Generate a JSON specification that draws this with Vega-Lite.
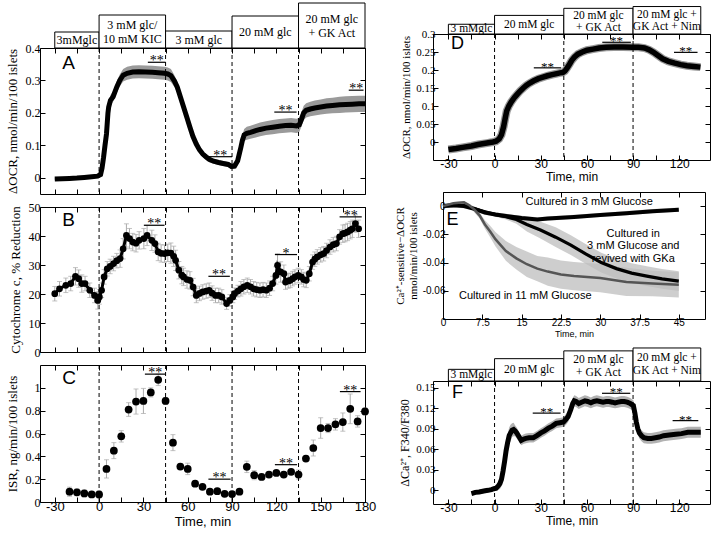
{
"$schema":"https://vega.github.io/schema/vega-lite/v6.json",
"background":"white",
"padding":{"left":5,"top":2,"right":0,"bottom":0},
"config":{
 "view":{"stroke":"black","strokeWidth":1},
 "axis":{"grid":false,"domain":false,"ticks":true,"tickColor":"black","tickSize":-5,"tickWidth":1,"labelPadding":3,"labelColor":"black","titleColor":"black","labelFont":"Liberation Serif","titleFont":"Liberation Serif","labelFontSize":12,"titleFontSize":13,"titleFontWeight":"normal","labelFlush":false,"labelOverlap":false,"labelBound":false,"titlePadding":4},
 "text":{"font":"Liberation Serif","color":"black"}
},
"datasets":{
 "boxA":[{"t0":-30,"t1":0,"h":16,"lab":["3mMglc"]},{"t0":0,"t1":45,"h":33,"lab":["3 mM glc/","10 mM KIC"]},{"t0":45,"t1":90,"h":17,"lab":["3 mM glc"]},{"t0":90,"t1":135,"h":32,"lab":["20 mM glc"]},{"t0":135,"t1":180,"h":45,"lab":["20 mM glc","+ GK Act"]}],
 "boxD":[{"t0":-30,"t1":0,"h":11,"lab":["3 mMglc"]},{"t0":0,"t1":45,"h":21,"lab":["20 mM glc"]},{"t0":45,"t1":90,"h":29,"lab":["20 mM glc","+ GK Act"]},{"t0":90,"t1":134,"h":31,"lab":["20 mM glc +","GK Act + Nim"]}],
 "boxF":[{"t0":-30,"t1":0,"h":12,"lab":["3 mMglc"]},{"t0":0,"t1":45,"h":23,"lab":["20 mM glc"]},{"t0":45,"t1":90,"h":31,"lab":["20 mM glc","+ GK Act"]},{"t0":90,"t1":134,"h":34,"lab":["20 mM glc +","GK Act + Nim"]}],
 "A":[{"t":-30,"v":-0.004,"e":0.004},{"t":-25,"v":-0.003,"e":0.004},{"t":-20,"v":-0.002,"e":0.004},{"t":-15,"v":-0.001,"e":0.004},{"t":-10,"v":0.001,"e":0.004},{"t":-5,"v":0.003,"e":0.004},{"t":-1,"v":0.005,"e":0.004},{"t":1,"v":0.01,"e":0.005},{"t":2,"v":0.03,"e":0.006},{"t":3,"v":0.062,"e":0.008},{"t":4,"v":0.1,"e":0.01},{"t":5,"v":0.135,"e":0.012},{"t":6,"v":0.2,"e":0.014},{"t":6.5,"v":0.218,"e":0.015},{"t":7.7,"v":0.239,"e":0.016},{"t":9.5,"v":0.25,"e":0.016},{"t":12,"v":0.28,"e":0.018},{"t":14,"v":0.3,"e":0.018},{"t":16.3,"v":0.316,"e":0.019},{"t":19,"v":0.322,"e":0.02},{"t":22.8,"v":0.326,"e":0.02},{"t":27,"v":0.327,"e":0.02},{"t":31.4,"v":0.326,"e":0.02},{"t":36,"v":0.325,"e":0.02},{"t":40,"v":0.324,"e":0.02},{"t":44.3,"v":0.322,"e":0.02},{"t":46.5,"v":0.32,"e":0.02},{"t":48.6,"v":0.315,"e":0.02},{"t":51,"v":0.298,"e":0.018},{"t":52.9,"v":0.28,"e":0.017},{"t":55,"v":0.25,"e":0.015},{"t":57.2,"v":0.218,"e":0.014},{"t":59.5,"v":0.185,"e":0.013},{"t":61.5,"v":0.156,"e":0.012},{"t":63.5,"v":0.128,"e":0.011},{"t":65.8,"v":0.104,"e":0.01},{"t":68,"v":0.086,"e":0.01},{"t":70.2,"v":0.073,"e":0.009},{"t":72.5,"v":0.064,"e":0.009},{"t":74.5,"v":0.057,"e":0.009},{"t":77.5,"v":0.051,"e":0.008},{"t":80.9,"v":0.047,"e":0.008},{"t":84,"v":0.044,"e":0.008},{"t":87.4,"v":0.041,"e":0.008},{"t":89.5,"v":0.035,"e":0.008},{"t":91.7,"v":0.036,"e":0.008},{"t":93.8,"v":0.052,"e":0.01},{"t":95,"v":0.075,"e":0.012},{"t":96,"v":0.094,"e":0.014},{"t":97,"v":0.115,"e":0.016},{"t":98.2,"v":0.132,"e":0.018},{"t":100,"v":0.137,"e":0.02},{"t":102.5,"v":0.14,"e":0.02},{"t":106,"v":0.145,"e":0.021},{"t":109,"v":0.149,"e":0.021},{"t":113,"v":0.153,"e":0.021},{"t":117.5,"v":0.156,"e":0.022},{"t":122,"v":0.159,"e":0.022},{"t":126.2,"v":0.161,"e":0.022},{"t":130,"v":0.162,"e":0.022},{"t":133.7,"v":0.16,"e":0.022},{"t":135.5,"v":0.163,"e":0.022},{"t":137,"v":0.18,"e":0.022},{"t":138.5,"v":0.2,"e":0.022},{"t":140.2,"v":0.208,"e":0.022},{"t":143,"v":0.212,"e":0.022},{"t":146,"v":0.215,"e":0.023},{"t":150,"v":0.218,"e":0.023},{"t":154,"v":0.221,"e":0.024},{"t":158,"v":0.223,"e":0.024},{"t":162.8,"v":0.225,"e":0.025},{"t":167,"v":0.226,"e":0.025},{"t":171.4,"v":0.227,"e":0.025},{"t":176,"v":0.228,"e":0.025},{"t":180,"v":0.228,"e":0.025}],
 "B":[{"t":-30,"v":20.1,"e":2.5},{"t":-26.8,"v":21.8,"e":2.5},{"t":-22.5,"v":23,"e":2.5},{"t":-19.2,"v":23.6,"e":2.5},{"t":-16,"v":26.1,"e":3},{"t":-13.8,"v":25.3,"e":3},{"t":-11.7,"v":23.6,"e":3},{"t":-9.5,"v":23.6,"e":2.5},{"t":-6.3,"v":21.3,"e":2.5},{"t":-3.1,"v":19.5,"e":2.5},{"t":-0.9,"v":17.8,"e":3},{"t":0.2,"v":19,"e":2.5},{"t":1.7,"v":21.3,"e":2.5},{"t":3.4,"v":25.9,"e":2.5},{"t":5.5,"v":28.7,"e":2.5},{"t":7.5,"v":29.5,"e":2.5},{"t":9.8,"v":30.5,"e":2.5},{"t":12,"v":31.5,"e":2.5},{"t":14.2,"v":32.2,"e":3},{"t":16.3,"v":35.6,"e":3.5},{"t":18.5,"v":40.2,"e":4},{"t":20.6,"v":39.1,"e":3.5},{"t":22.8,"v":37.9,"e":3},{"t":25,"v":37.5,"e":3},{"t":27.1,"v":38.5,"e":3},{"t":30.3,"v":39.1,"e":3.5},{"t":32.5,"v":40.2,"e":3.5},{"t":35.7,"v":38.5,"e":3.5},{"t":37.8,"v":37.4,"e":3},{"t":40,"v":34.5,"e":3},{"t":42,"v":34,"e":3},{"t":44.3,"v":33.9,"e":3},{"t":46.5,"v":34.2,"e":3},{"t":48.6,"v":34.1,"e":3.5},{"t":50.5,"v":33,"e":3.5},{"t":51.8,"v":31.6,"e":3.5},{"t":54,"v":28.2,"e":3},{"t":56,"v":26.5,"e":3},{"t":57.2,"v":25.9,"e":3},{"t":59.5,"v":25,"e":3},{"t":61.5,"v":24.7,"e":3},{"t":63.7,"v":22.4,"e":3},{"t":65.8,"v":19.5,"e":2.5},{"t":68,"v":20.2,"e":2.5},{"t":70.2,"v":20.7,"e":2.5},{"t":72.5,"v":21,"e":2.5},{"t":74.5,"v":21.3,"e":2.5},{"t":76.5,"v":20.3,"e":2.5},{"t":78.8,"v":19.5,"e":2.5},{"t":81,"v":19.5,"e":2.5},{"t":83.1,"v":19,"e":2.5},{"t":86.3,"v":16.7,"e":2},{"t":88.5,"v":17.8,"e":2},{"t":90.5,"v":19,"e":2},{"t":91.7,"v":20.1,"e":2},{"t":94,"v":21,"e":2},{"t":96,"v":21.8,"e":2.5},{"t":98,"v":22.5,"e":2.5},{"t":100.3,"v":23,"e":2.5},{"t":102.5,"v":22.5,"e":2.5},{"t":104.6,"v":21.8,"e":2.5},{"t":106.7,"v":21.5,"e":2.5},{"t":108.9,"v":21.3,"e":2.5},{"t":111,"v":21.5,"e":2.5},{"t":113.2,"v":21.3,"e":2.5},{"t":115.4,"v":22,"e":2.5},{"t":117.5,"v":23.6,"e":2.5},{"t":119.7,"v":26.4,"e":3},{"t":120.8,"v":29.9,"e":4},{"t":122.9,"v":27.6,"e":3.5},{"t":125.1,"v":27,"e":3},{"t":126.2,"v":24.1,"e":2.5},{"t":128,"v":24.5,"e":2.5},{"t":129.4,"v":24.7,"e":2.5},{"t":131,"v":25.3,"e":2.5},{"t":132.6,"v":25.9,"e":2.5},{"t":134.8,"v":26.4,"e":2.5},{"t":136.9,"v":25.9,"e":2.5},{"t":138.5,"v":25,"e":2.5},{"t":140.2,"v":24.7,"e":2.5},{"t":142.3,"v":27,"e":2.5},{"t":144.5,"v":31,"e":2.5},{"t":146,"v":32,"e":2.5},{"t":147.7,"v":32.8,"e":2.5},{"t":150,"v":33.5,"e":2.5},{"t":152,"v":33.9,"e":2.5},{"t":154,"v":35,"e":2.5},{"t":156.3,"v":36.2,"e":2.5},{"t":158.5,"v":37,"e":2.5},{"t":160.6,"v":37.4,"e":2.5},{"t":162.8,"v":39.7,"e":2.5},{"t":165,"v":40.8,"e":3},{"t":166.5,"v":41,"e":3},{"t":168.2,"v":41.4,"e":3},{"t":170,"v":42,"e":3},{"t":171.4,"v":42.5,"e":3},{"t":173.5,"v":44.3,"e":3},{"t":175.7,"v":42.5,"e":3}],
 "C":[{"t":-20,"v":0.09,"e":0.04},{"t":-15,"v":0.085,"e":0.03},{"t":-10,"v":0.075,"e":0.03},{"t":-5,"v":0.066,"e":0.02},{"t":0,"v":0.066,"e":0.03},{"t":5,"v":0.29,"e":0.08},{"t":10,"v":0.45,"e":0.07},{"t":15,"v":0.575,"e":0.05},{"t":20,"v":0.81,"e":0.06},{"t":25,"v":0.88,"e":0.11},{"t":30,"v":0.885,"e":0.11},{"t":35,"v":0.96,"e":0.04},{"t":40,"v":1.07,"e":0.05},{"t":45,"v":0.885,"e":0.03},{"t":50,"v":0.52,"e":0.07},{"t":55,"v":0.31,"e":0.02},{"t":60,"v":0.29,"e":0.05},{"t":65,"v":0.16,"e":0.01},{"t":70,"v":0.133,"e":0.01},{"t":75,"v":0.09,"e":0.01},{"t":80,"v":0.095,"e":0.01},{"t":85,"v":0.072,"e":0.01},{"t":90,"v":0.069,"e":0.01},{"t":95,"v":0.09,"e":0.01},{"t":100,"v":0.308,"e":0.05},{"t":105,"v":0.235,"e":0.04},{"t":110,"v":0.22,"e":0.02},{"t":115,"v":0.24,"e":0.02},{"t":120,"v":0.255,"e":0.02},{"t":125,"v":0.24,"e":0.02},{"t":130,"v":0.264,"e":0.02},{"t":135,"v":0.24,"e":0.04},{"t":140,"v":0.38,"e":0.02},{"t":145,"v":0.473,"e":0.07},{"t":150,"v":0.648,"e":0.09},{"t":155,"v":0.648,"e":0.04},{"t":160,"v":0.68,"e":0.05},{"t":165,"v":0.7,"e":0.08},{"t":170,"v":0.816,"e":0.13},{"t":175,"v":0.706,"e":0.05},{"t":180,"v":0.793,"e":0.03}],
 "D":[{"t":-30,"v":-0.021},{"t":-25,"v":-0.018},{"t":-20.7,"v":-0.015},{"t":-15,"v":-0.011},{"t":-10.8,"v":-0.007},{"t":-5,"v":-0.003},{"t":-1,"v":0},{"t":1,"v":0.002},{"t":3,"v":0.0086},{"t":4.5,"v":0.02},{"t":5.9,"v":0.043},{"t":6.9,"v":0.065},{"t":7.9,"v":0.086},{"t":9.3,"v":0.1},{"t":10.8,"v":0.111},{"t":12.8,"v":0.123},{"t":14.8,"v":0.133},{"t":16.7,"v":0.142},{"t":18.7,"v":0.15},{"t":20.6,"v":0.157},{"t":22.6,"v":0.163},{"t":25.5,"v":0.17},{"t":28.5,"v":0.176},{"t":31.5,"v":0.18},{"t":34.4,"v":0.184},{"t":37.4,"v":0.187},{"t":40.4,"v":0.19},{"t":42.5,"v":0.192},{"t":44.3,"v":0.193},{"t":45.7,"v":0.197},{"t":47.2,"v":0.206},{"t":48.7,"v":0.216},{"t":50.2,"v":0.227},{"t":52,"v":0.236},{"t":54.1,"v":0.244},{"t":57,"v":0.25},{"t":60,"v":0.255},{"t":64,"v":0.258},{"t":67.9,"v":0.261},{"t":72.5,"v":0.263},{"t":77.7,"v":0.264},{"t":83.5,"v":0.264},{"t":89.6,"v":0.263},{"t":93.5,"v":0.263},{"t":97.4,"v":0.261},{"t":100.5,"v":0.256},{"t":103.3,"v":0.249},{"t":106.2,"v":0.24},{"t":109.2,"v":0.231},{"t":113,"v":0.224},{"t":117.1,"v":0.219},{"t":121,"v":0.215},{"t":125,"v":0.212},{"t":129.5,"v":0.21},{"t":133.8,"v":0.208}],
 "E":[{"s":"3mM","t":0,"v":0,"e":0.0015},{"s":"3mM","t":2,"v":0.0006,"e":0.0015},{"s":"3mM","t":4,"v":0,"e":0.0015},{"s":"3mM","t":6,"v":-0.002,"e":0.0015},{"s":"3mM","t":8,"v":-0.0046,"e":0.0015},{"s":"3mM","t":10,"v":-0.006,"e":0.0015},{"s":"3mM","t":12,"v":-0.007,"e":0.0015},{"s":"3mM","t":15,"v":-0.0084,"e":0.0015},{"s":"3mM","t":18,"v":-0.0094,"e":0.0015},{"s":"3mM","t":20,"v":-0.0088,"e":0.0015},{"s":"3mM","t":25,"v":-0.0077,"e":0.0015},{"s":"3mM","t":30,"v":-0.0063,"e":0.0015},{"s":"3mM","t":35,"v":-0.005,"e":0.0015},{"s":"3mM","t":40,"v":-0.0036,"e":0.0015},{"s":"3mM","t":45,"v":-0.0025,"e":0.0015},
  {"s":"GKa","t":0,"v":0,"e":0.001},{"s":"GKa","t":2,"v":0.0005,"e":0.001},{"s":"GKa","t":4,"v":0.0005,"e":0.001},{"s":"GKa","t":6,"v":-0.002,"e":0.001},{"s":"GKa","t":8,"v":-0.004,"e":0.001},{"s":"GKa","t":10,"v":-0.006,"e":0.0015},{"s":"GKa","t":12,"v":-0.0075,"e":0.002},{"s":"GKa","t":14,"v":-0.0095,"e":0.003},{"s":"GKa","t":16,"v":-0.013,"e":0.005},{"s":"GKa","t":18.6,"v":-0.017,"e":0.006},{"s":"GKa","t":21.5,"v":-0.022,"e":0.007},{"s":"GKa","t":24.4,"v":-0.0276,"e":0.007},{"s":"GKa","t":27.3,"v":-0.034,"e":0.007},{"s":"GKa","t":30.2,"v":-0.04,"e":0.007},{"s":"GKa","t":33.1,"v":-0.0443,"e":0.007},{"s":"GKa","t":36,"v":-0.0475,"e":0.007},{"s":"GKa","t":38.9,"v":-0.0496,"e":0.007},{"s":"GKa","t":41.8,"v":-0.0516,"e":0.007},{"s":"GKa","t":45,"v":-0.0531,"e":0.007},
  {"s":"11mM","t":0,"v":0,"e":0.001},{"s":"11mM","t":2,"v":0.002,"e":0.001},{"s":"11mM","t":4,"v":0.0027,"e":0.001},{"s":"11mM","t":5,"v":0.0006,"e":0.001},{"s":"11mM","t":6,"v":-0.0025,"e":0.002},{"s":"11mM","t":7,"v":-0.0067,"e":0.002},{"s":"11mM","t":8,"v":-0.013,"e":0.003},{"s":"11mM","t":9,"v":-0.018,"e":0.004},{"s":"11mM","t":10,"v":-0.0234,"e":0.005},{"s":"11mM","t":11,"v":-0.0276,"e":0.006},{"s":"11mM","t":12,"v":-0.0318,"e":0.007},{"s":"11mM","t":14,"v":-0.037,"e":0.008},{"s":"11mM","t":16,"v":-0.0412,"e":0.009},{"s":"11mM","t":18,"v":-0.0443,"e":0.009},{"s":"11mM","t":20,"v":-0.0464,"e":0.01},{"s":"11mM","t":22.5,"v":-0.0485,"e":0.01},{"s":"11mM","t":25,"v":-0.0496,"e":0.01},{"s":"11mM","t":30,"v":-0.051,"e":0.01},{"s":"11mM","t":35,"v":-0.0537,"e":0.01},{"s":"11mM","t":40,"v":-0.0548,"e":0.009},{"s":"11mM","t":45,"v":-0.0558,"e":0.009}],
 "F":[{"t":-15,"v":-0.0047,"e":0.003},{"t":-12.5,"v":-0.003,"e":0.003},{"t":-10,"v":-0.0023,"e":0.003},{"t":-7,"v":-0.001,"e":0.003},{"t":-4.3,"v":0,"e":0.003},{"t":-2,"v":0.001,"e":0.003},{"t":-0.4,"v":0.0023,"e":0.003},{"t":1,"v":0.003,"e":0.004},{"t":2.6,"v":0.007,"e":0.006},{"t":3.5,"v":0.01,"e":0.008},{"t":4.5,"v":0.016,"e":0.01},{"t":5.5,"v":0.028,"e":0.012},{"t":6.5,"v":0.042,"e":0.012},{"t":7.5,"v":0.058,"e":0.012},{"t":8.5,"v":0.07,"e":0.012},{"t":9.5,"v":0.08,"e":0.012},{"t":10.4,"v":0.084,"e":0.012},{"t":11.4,"v":0.088,"e":0.01},{"t":12.4,"v":0.089,"e":0.01},{"t":13.4,"v":0.087,"e":0.008},{"t":14.4,"v":0.084,"e":0.008},{"t":16,"v":0.078,"e":0.007},{"t":17.3,"v":0.073,"e":0.007},{"t":19,"v":0.075,"e":0.007},{"t":20.3,"v":0.076,"e":0.007},{"t":22.5,"v":0.077,"e":0.007},{"t":25.2,"v":0.077,"e":0.007},{"t":27.5,"v":0.08,"e":0.007},{"t":30.1,"v":0.084,"e":0.007},{"t":32.5,"v":0.087,"e":0.007},{"t":35,"v":0.091,"e":0.007},{"t":37.5,"v":0.094,"e":0.007},{"t":40,"v":0.098,"e":0.007},{"t":42.5,"v":0.099,"e":0.007},{"t":44.9,"v":0.1,"e":0.007},{"t":46.5,"v":0.104,"e":0.008},{"t":47.8,"v":0.108,"e":0.008},{"t":49.5,"v":0.118,"e":0.008},{"t":50.8,"v":0.127,"e":0.008},{"t":51.8,"v":0.131,"e":0.008},{"t":53,"v":0.13,"e":0.008},{"t":54.7,"v":0.127,"e":0.008},{"t":56.5,"v":0.129,"e":0.008},{"t":58.7,"v":0.131,"e":0.008},{"t":60.5,"v":0.13,"e":0.008},{"t":62.6,"v":0.128,"e":0.008},{"t":64.5,"v":0.13,"e":0.008},{"t":66.5,"v":0.131,"e":0.008},{"t":68.5,"v":0.13,"e":0.008},{"t":70.5,"v":0.129,"e":0.008},{"t":72.5,"v":0.13,"e":0.008},{"t":74.4,"v":0.13,"e":0.008},{"t":76.5,"v":0.129,"e":0.008},{"t":78.3,"v":0.128,"e":0.008},{"t":80.3,"v":0.129,"e":0.008},{"t":82.3,"v":0.13,"e":0.008},{"t":84.3,"v":0.13,"e":0.008},{"t":86.2,"v":0.129,"e":0.008},{"t":88.2,"v":0.127,"e":0.008},{"t":90.2,"v":0.124,"e":0.008},{"t":91.2,"v":0.113,"e":0.008},{"t":92.1,"v":0.1,"e":0.008},{"t":93.1,"v":0.09,"e":0.008},{"t":94.1,"v":0.084,"e":0.008},{"t":95.5,"v":0.08,"e":0.008},{"t":97,"v":0.077,"e":0.008},{"t":99.5,"v":0.076,"e":0.008},{"t":101.9,"v":0.076,"e":0.008},{"t":104.5,"v":0.077,"e":0.008},{"t":107,"v":0.078,"e":0.008},{"t":109.8,"v":0.08,"e":0.008},{"t":113.5,"v":0.081,"e":0.008},{"t":117.7,"v":0.082,"e":0.008},{"t":121.5,"v":0.083,"e":0.008},{"t":125.6,"v":0.085,"e":0.008},{"t":130,"v":0.085,"e":0.008},{"t":134,"v":0.085,"e":0.008}],
 "sigA":[{"t0":33,"t1":45,"y":0.356,"lab":"**"},{"t0":74,"t1":90,"y":0.065,"lab":"**"},{"t0":118.6,"t1":133.7,"y":0.2025,"lab":"**"},{"t0":169,"t1":179,"y":0.27,"lab":"**"}],
 "sigB":[{"t0":30.3,"t1":44.3,"y":43.7,"lab":"**"},{"t0":74,"t1":88.5,"y":26.1,"lab":"**"},{"t0":119,"t1":134,"y":33.6,"lab":"*"},{"t0":162.8,"t1":177.8,"y":46.6,"lab":"**"}],
 "sigC":[{"t0":31,"t1":45,"y":1.12,"lab":"**"},{"t0":74,"t1":89,"y":0.2,"lab":"**"},{"t0":119,"t1":134,"y":0.327,"lab":"**"},{"t0":163,"t1":177,"y":0.967,"lab":"**"}],
 "sigD":[{"t0":25.5,"t1":43.3,"y":0.206,"lab":"**"},{"t0":70,"t1":88.6,"y":0.277,"lab":"**"},{"t0":116.6,"t1":131.9,"y":0.249,"lab":"**"}],
 "sigF":[{"t0":24.8,"t1":42.9,"y":0.113,"lab":"**"},{"t0":69.8,"t1":88.2,"y":0.142,"lab":"**"},{"t0":115.7,"t1":132.4,"y":0.102,"lab":"**"}],
 "cutsL":[{"t":0},{"t":45},{"t":90},{"t":135}],
 "cutsR":[{"t":0},{"t":45},{"t":90}]
},
"spacing":16,
"hconcat":[
 {"spacing":5,"vconcat":[
  {"bounds":"flush","spacing":0,"vconcat":[
   {"width":325,"height":45,"view":{"stroke":null},"data":{"name":"boxA"},
    "transform":[{"calculate":"(datum.t0+datum.t1)/2","as":"m"},{"calculate":"datum.h/2+(length(datum.lab)-1)*7","as":"hm"}],
    "layer":[
     {"mark":{"type":"rect","fill":"white","stroke":"black","strokeWidth":1},"encoding":{"x":{"field":"t0","type":"quantitative","scale":{"domain":[-30,180]},"axis":null},"x2":{"field":"t1"},"y":{"field":"h","type":"quantitative","scale":{"domain":[0,45]},"axis":null},"y2":{"datum":0}}},
     {"mark":{"type":"text","color":"black","fontSize":12,"lineHeight":14,"baseline":"middle"},"encoding":{"x":{"field":"m","type":"quantitative","axis":null},"y":{"field":"hm","type":"quantitative","axis":null},"text":{"field":"lab"}}}
    ]},
   {"width":325,"height":146,"resolve":{"axis":{"x":"independent","y":"independent"}},
    "layer":[
     {"data":{"name":"A"},"mark":{"type":"errorband","color":"#9a9a9a","opacity":1},"encoding":{"x":{"field":"t","type":"quantitative","scale":{"domain":[-30,180]},"axis":{"values":[-30,-15,0,15,30,45,60,75,90,105,120,135,150,165,180],"labels":false,"labelPadding":0,"title":null}},"y":{"field":"v","type":"quantitative","scale":{"domain":[-0.05,0.4]},"axis":{"values":[0,0.1,0.2,0.3,0.4],"labelExpr":"''+datum.value","labelPadding":5,"titlePadding":6,"title":"ΔOCR, nmol/min/100 islets"}},"yError":{"field":"e"}}},
     {"data":{"name":"A"},"mark":{"type":"line","color":"black","strokeWidth":5},"encoding":{"x":{"field":"t","type":"quantitative","axis":null},"y":{"field":"v","type":"quantitative","axis":null}}},
     {"data":{"name":"cutsL"},"mark":{"type":"rule","color":"black","strokeDash":[4,3],"strokeWidth":1},"encoding":{"x":{"field":"t","type":"quantitative","axis":null}}},
     {"data":{"name":"sigA"},"mark":{"type":"rule","color":"black","strokeWidth":1.2},"encoding":{"x":{"field":"t0","type":"quantitative","axis":{"orient":"top","values":[-30,-15,0,15,30,45,60,75,90,105,120,135,150,165,180],"labels":false,"labelPadding":0,"title":null}},"x2":{"field":"t1"},"y":{"field":"y","type":"quantitative","axis":{"orient":"right","values":[0,0.1,0.2,0.3,0.4],"labels":false,"labelPadding":0,"title":null}}}},
     {"data":{"name":"sigA"},"transform":[{"calculate":"(datum.t0+datum.t1)/2","as":"m"}],"mark":{"type":"text","color":"black","fontSize":14,"dy":3,"baseline":"alphabetic"},"encoding":{"x":{"field":"m","type":"quantitative","axis":null},"y":{"field":"y","type":"quantitative","axis":null},"text":{"field":"lab"}}},
     {"data":{"values":[{}]},"mark":{"type":"text","color":"black","font":"Liberation Sans","fontSize":19,"align":"left","baseline":"middle","text":"A"},"encoding":{"x":{"datum":-25,"type":"quantitative","axis":null},"y":{"datum":0.355,"type":"quantitative","axis":null}}}
    ]}
  ]},
  {"width":325,"height":145,"resolve":{"axis":{"x":"independent","y":"independent"}},
   "layer":[
    {"data":{"name":"B"},"mark":{"type":"errorbar","color":"#aaaaaa","ticks":true},"encoding":{"x":{"field":"t","type":"quantitative","scale":{"domain":[-30,180]},"axis":{"values":[-30,-15,0,15,30,45,60,75,90,105,120,135,150,165,180],"labels":false,"labelPadding":0,"title":null}},"y":{"field":"v","type":"quantitative","scale":{"domain":[0,50]},"axis":{"values":[0,10,20,30,40,50],"labelExpr":"''+datum.value","labelPadding":5,"titlePadding":6,"title":"Cytochrome c, % Reduction"}},"yError":{"field":"e"}}},
    {"data":{"name":"B"},"mark":{"type":"line","color":"black","strokeWidth":3},"encoding":{"x":{"field":"t","type":"quantitative","axis":null},"y":{"field":"v","type":"quantitative","axis":null}}},
    {"data":{"name":"B"},"mark":{"type":"circle","color":"black","size":45,"opacity":1},"encoding":{"x":{"field":"t","type":"quantitative","axis":null},"y":{"field":"v","type":"quantitative","axis":null}}},
    {"data":{"name":"cutsL"},"mark":{"type":"rule","color":"black","strokeDash":[4,3],"strokeWidth":1},"encoding":{"x":{"field":"t","type":"quantitative","axis":null}}},
    {"data":{"name":"sigB"},"mark":{"type":"rule","color":"black","strokeWidth":1.2},"encoding":{"x":{"field":"t0","type":"quantitative","axis":{"orient":"top","values":[-30,-15,0,15,30,45,60,75,90,105,120,135,150,165,180],"labels":false,"labelPadding":0,"title":null}},"x2":{"field":"t1"},"y":{"field":"y","type":"quantitative","axis":{"orient":"right","values":[0,10,20,30,40,50],"labels":false,"labelPadding":0,"title":null}}}},
    {"data":{"name":"sigB"},"transform":[{"calculate":"(datum.t0+datum.t1)/2","as":"m"}],"mark":{"type":"text","color":"black","fontSize":14,"dy":3,"baseline":"alphabetic"},"encoding":{"x":{"field":"m","type":"quantitative","axis":null},"y":{"field":"y","type":"quantitative","axis":null},"text":{"field":"lab"}}},
    {"data":{"values":[{}]},"mark":{"type":"text","color":"black","font":"Liberation Sans","fontSize":19,"align":"left","baseline":"middle","text":"B"},"encoding":{"x":{"datum":-25,"type":"quantitative","axis":null},"y":{"datum":45.4,"type":"quantitative","axis":null}}}
   ]},
  {"width":325,"height":137,"resolve":{"axis":{"x":"independent","y":"independent"}},
   "layer":[
    {"data":{"name":"C"},"mark":{"type":"errorbar","color":"#aaaaaa","ticks":true},"encoding":{"x":{"field":"t","type":"quantitative","scale":{"domain":[-30,180]},"axis":{"values":[-30,-15,0,15,30,45,60,75,90,105,120,135,150,165,180],"labelExpr":"datum.value % 30 === 0 ? ''+datum.value : ''","title":"Time, min","labelFont":"Liberation Sans","labelFontSize":13,"titleFont":"Liberation Sans","titleFontSize":13,"titlePadding":2}},"y":{"field":"v","type":"quantitative","scale":{"domain":[0,1.2]},"axis":{"values":[0,0.2,0.4,0.6,0.8,1],"labelExpr":"''+datum.value","labelPadding":5,"titlePadding":6,"title":"ISR, ng/min/100 islets"}},"yError":{"field":"e"}}},
    {"data":{"name":"C"},"mark":{"type":"circle","color":"black","size":60,"opacity":1},"encoding":{"x":{"field":"t","type":"quantitative","axis":null},"y":{"field":"v","type":"quantitative","axis":null}}},
    {"data":{"name":"cutsL"},"mark":{"type":"rule","color":"black","strokeDash":[4,3],"strokeWidth":1},"encoding":{"x":{"field":"t","type":"quantitative","axis":null}}},
    {"data":{"name":"sigC"},"mark":{"type":"rule","color":"black","strokeWidth":1.2},"encoding":{"x":{"field":"t0","type":"quantitative","axis":{"orient":"top","values":[-30,-15,0,15,30,45,60,75,90,105,120,135,150,165,180],"labels":false,"labelPadding":0,"title":null}},"x2":{"field":"t1"},"y":{"field":"y","type":"quantitative","axis":{"orient":"right","values":[0,0.2,0.4,0.6,0.8,1],"labels":false,"labelPadding":0,"title":null}}}},
    {"data":{"name":"sigC"},"transform":[{"calculate":"(datum.t0+datum.t1)/2","as":"m"}],"mark":{"type":"text","color":"black","fontSize":14,"dy":3,"baseline":"alphabetic"},"encoding":{"x":{"field":"m","type":"quantitative","axis":null},"y":{"field":"y","type":"quantitative","axis":null},"text":{"field":"lab"}}},
    {"data":{"values":[{}]},"mark":{"type":"text","color":"black","font":"Liberation Sans","fontSize":19,"align":"left","baseline":"middle","text":"C"},"encoding":{"x":{"datum":-25,"type":"quantitative","axis":null},"y":{"datum":1.09,"type":"quantitative","axis":null}}}
   ]}
 ]},
 {"spacing":8,"vconcat":[
  {"bounds":"flush","spacing":0,"vconcat":[
   {"width":277,"height":31,"view":{"stroke":null},"data":{"name":"boxD"},
    "transform":[{"calculate":"(datum.t0+datum.t1)/2","as":"m"},{"calculate":"datum.h/2+(length(datum.lab)-1)*6","as":"hm"}],
    "layer":[
     {"mark":{"type":"rect","fill":"white","stroke":"black","strokeWidth":1},"encoding":{"x":{"field":"t0","type":"quantitative","scale":{"domain":[-31,134]},"axis":null},"x2":{"field":"t1"},"y":{"field":"h","type":"quantitative","scale":{"domain":[0,31]},"axis":null},"y2":{"datum":0}}},
     {"mark":{"type":"text","color":"black","fontSize":11.5,"lineHeight":12,"baseline":"middle"},"encoding":{"x":{"field":"m","type":"quantitative","axis":null},"y":{"field":"hm","type":"quantitative","axis":null},"text":{"field":"lab"}}}
    ]},
   {"width":277,"height":126,"resolve":{"axis":{"x":"independent","y":"independent"}},
    "layer":[
     {"data":{"name":"D"},"mark":{"type":"line","color":"#999999","strokeWidth":8},"encoding":{"x":{"field":"t","type":"quantitative","scale":{"domain":[-31,134]},"axis":{"values":[-30,-15,0,15,30,45,60,75,90,105,120],"labelExpr":"datum.value % 30 === 0 ? ''+datum.value : ''","title":"Time, min","labelFont":"Liberation Sans","labelFontSize":12,"titleFont":"Liberation Sans","titleFontSize":12,"titlePadding":2}},"y":{"field":"v","type":"quantitative","scale":{"domain":[-0.025,0.3]},"axis":{"values":[0,0.05,0.1,0.15,0.2,0.25,0.3],"labelExpr":"''+datum.value","labelFontSize":11,"titleFontSize":11,"title":"ΔOCR, nmol/min/100 islets"}}}},
     {"data":{"name":"D"},"mark":{"type":"line","color":"black","strokeWidth":5.5},"encoding":{"x":{"field":"t","type":"quantitative","axis":null},"y":{"field":"v","type":"quantitative","axis":null}}},
     {"data":{"name":"cutsR"},"mark":{"type":"rule","color":"black","strokeDash":[4,3],"strokeWidth":1},"encoding":{"x":{"field":"t","type":"quantitative","axis":null}}},
     {"data":{"name":"sigD"},"mark":{"type":"rule","color":"black","strokeWidth":1.2},"encoding":{"x":{"field":"t0","type":"quantitative","axis":{"orient":"top","values":[-30,-15,0,15,30,45,60,75,90,105,120],"labels":false,"labelPadding":0,"title":null}},"x2":{"field":"t1"},"y":{"field":"y","type":"quantitative","axis":{"orient":"right","values":[0,0.05,0.1,0.15,0.2,0.25,0.3],"labels":false,"labelPadding":0,"title":null}}}},
     {"data":{"name":"sigD"},"transform":[{"calculate":"(datum.t0+datum.t1)/2","as":"m"}],"mark":{"type":"text","color":"black","fontSize":13,"dy":3,"baseline":"alphabetic"},"encoding":{"x":{"field":"m","type":"quantitative","axis":null},"y":{"field":"y","type":"quantitative","axis":null},"text":{"field":"lab"}}},
     {"data":{"values":[{}]},"mark":{"type":"text","color":"black","font":"Liberation Sans","fontSize":18,"align":"center","baseline":"middle","text":"D"},"encoding":{"x":{"datum":-24,"type":"quantitative","axis":null},"y":{"datum":0.273,"type":"quantitative","axis":null}}}
    ]}
  ]},
  {"bounds":"flush","spacing":9,"hconcat":[
   {"width":1,"height":127,"view":{"stroke":null},"data":{"values":[{}]},"mark":{"type":"point","opacity":0}},
   {"width":262,"height":127,"resolve":{"axis":{"x":"independent","y":"independent"}},
    "layer":[
     {"data":{"name":"E"},"mark":{"type":"errorband","color":"#bdbdbd","opacity":0.75},"encoding":{"x":{"field":"t","type":"quantitative","scale":{"domain":[0,45.5]},"axis":{"values":[0,7.5,15,22.5,30,37.5,45],"labelExpr":"''+datum.value","title":"Time, min","labelFont":"Liberation Sans","labelFontSize":10,"titleFont":"Liberation Sans","titleFontSize":9,"titlePadding":2}},"y":{"field":"v","type":"quantitative","scale":{"domain":[-0.07,0.01]},"axis":{"values":[0,-0.02,-0.04,-0.06],"labelExpr":"''+datum.value","labelFont":"Liberation Sans","labelFontSize":10,"titleFontSize":11,"title":["Ca²⁺-sensitive−ΔOCR","nmol/min/100 islets"]}},"yError":{"field":"e"},"detail":{"field":"s"}}},
     {"data":{"name":"E"},"mark":{"type":"line"},"encoding":{"x":{"field":"t","type":"quantitative","axis":null},"y":{"field":"v","type":"quantitative","axis":null},"color":{"field":"s","type":"nominal","scale":{"domain":["3mM","GKa","11mM"],"range":["black","black","#555555"]},"legend":null},"strokeWidth":{"field":"s","type":"nominal","scale":{"domain":["3mM","GKa","11mM"],"range":[4,2.5,3.5]},"legend":null}}},
     {"data":{"values":[{}]},"mark":{"type":"text","color":"black","font":"Liberation Sans","fontSize":11,"align":"center","baseline":"middle","text":"Cultured in 3 mM Glucose"},"encoding":{"x":{"datum":27.9,"type":"quantitative","axis":null},"y":{"datum":0.003,"type":"quantitative","axis":null}}},
     {"data":{"values":[{}]},"mark":{"type":"text","color":"black","font":"Liberation Sans","fontSize":11,"lineHeight":12.5,"align":"center","baseline":"middle","text":["Cultured in","3 mM Glucose and","revived with GKa"]},"encoding":{"x":{"datum":36.3,"type":"quantitative","axis":null},"y":{"datum":-0.0195,"type":"quantitative","axis":null}}},
     {"data":{"values":[{}]},"mark":{"type":"text","color":"black","font":"Liberation Sans","fontSize":11,"align":"center","baseline":"middle","text":"Cultured in 11 mM Glucose"},"encoding":{"x":{"datum":15.7,"type":"quantitative","axis":null},"y":{"datum":-0.064,"type":"quantitative","axis":null}}},
     {"data":{"values":[{}]},"mark":{"type":"text","color":"black","font":"Liberation Sans","fontSize":18,"align":"center","baseline":"middle","text":"E"},"encoding":{"x":{"datum":1.8,"type":"quantitative","axis":{"orient":"top","values":[0,7.5,15,22.5,30,37.5,45],"labels":false,"labelPadding":0,"title":null}},"y":{"datum":-0.0098,"type":"quantitative","axis":{"orient":"right","values":[0,-0.02,-0.04,-0.06],"labels":false,"labelPadding":0,"title":null}}}}
    ]}
  ]},
  {"bounds":"flush","spacing":0,"vconcat":[
   {"width":277,"height":34,"view":{"stroke":null},"data":{"name":"boxF"},
    "transform":[{"calculate":"(datum.t0+datum.t1)/2","as":"m"},{"calculate":"datum.h/2+(length(datum.lab)-1)*6.5","as":"hm"}],
    "layer":[
     {"mark":{"type":"rect","fill":"white","stroke":"black","strokeWidth":1},"encoding":{"x":{"field":"t0","type":"quantitative","scale":{"domain":[-31,134]},"axis":null},"x2":{"field":"t1"},"y":{"field":"h","type":"quantitative","scale":{"domain":[0,34]},"axis":null},"y2":{"datum":0}}},
     {"mark":{"type":"text","color":"black","fontSize":11.5,"lineHeight":13,"baseline":"middle"},"encoding":{"x":{"field":"m","type":"quantitative","axis":null},"y":{"field":"hm","type":"quantitative","axis":null},"text":{"field":"lab"}}}
    ]},
   {"width":277,"height":123,"resolve":{"axis":{"x":"independent","y":"independent"}},
    "layer":[
     {"data":{"name":"F"},"mark":{"type":"errorband","color":"#aaaaaa","opacity":0.9},"encoding":{"x":{"field":"t","type":"quantitative","scale":{"domain":[-31,134]},"axis":{"values":[-30,-15,0,15,30,45,60,75,90,105,120],"labelExpr":"datum.value % 30 === 0 ? ''+datum.value : ''","title":"Time, min","labelFont":"Liberation Sans","labelFontSize":12,"titleFont":"Liberation Sans","titleFontSize":12,"titlePadding":2}},"y":{"field":"v","type":"quantitative","scale":{"domain":[-0.015,0.16]},"axis":{"values":[0,0.03,0.06,0.09,0.12,0.15],"labelExpr":"''+datum.value","labelFontSize":11,"titleFontSize":12,"title":"ΔCa²⁺, F340/F380"}},"yError":{"field":"e"}}},
     {"data":{"name":"F"},"mark":{"type":"line","color":"black","strokeWidth":5},"encoding":{"x":{"field":"t","type":"quantitative","axis":null},"y":{"field":"v","type":"quantitative","axis":null}}},
     {"data":{"name":"cutsR"},"mark":{"type":"rule","color":"black","strokeDash":[4,3],"strokeWidth":1},"encoding":{"x":{"field":"t","type":"quantitative","axis":null}}},
     {"data":{"name":"sigF"},"mark":{"type":"rule","color":"black","strokeWidth":1.2},"encoding":{"x":{"field":"t0","type":"quantitative","axis":{"orient":"top","values":[-30,-15,0,15,30,45,60,75,90,105,120],"labels":false,"labelPadding":0,"title":null}},"x2":{"field":"t1"},"y":{"field":"y","type":"quantitative","axis":{"orient":"right","values":[0,0.03,0.06,0.09,0.12,0.15],"labels":false,"labelPadding":0,"title":null}}}},
     {"data":{"name":"sigF"},"transform":[{"calculate":"(datum.t0+datum.t1)/2","as":"m"}],"mark":{"type":"text","color":"black","fontSize":13,"dy":3,"baseline":"alphabetic"},"encoding":{"x":{"field":"m","type":"quantitative","axis":null},"y":{"field":"y","type":"quantitative","axis":null},"text":{"field":"lab"}}},
     {"data":{"values":[{}]},"mark":{"type":"text","color":"black","font":"Liberation Sans","fontSize":18,"align":"center","baseline":"middle","text":"F"},"encoding":{"x":{"datum":-24,"type":"quantitative","axis":null},"y":{"datum":0.143,"type":"quantitative","axis":null}}}
    ]}
  ]}
 ]}
]
}
